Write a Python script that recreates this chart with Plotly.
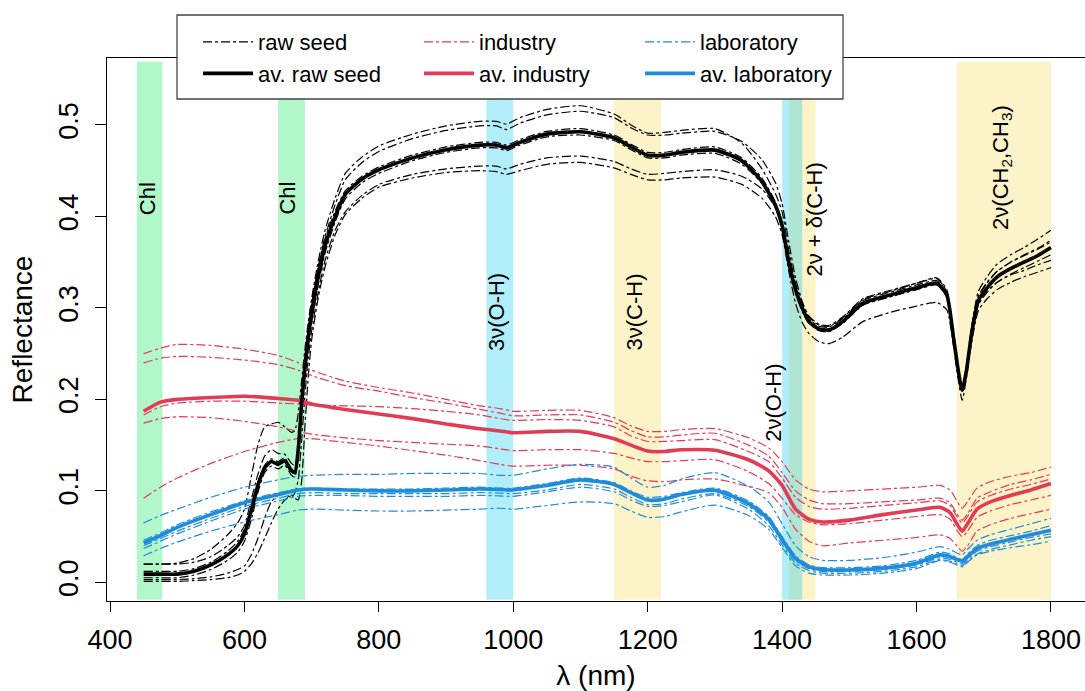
import plotly.graph_objects as go

# ---------------- data ----------------
wl_raw = [450, 475, 500, 525, 550, 575, 590, 600, 610, 620,
          630, 640, 650, 660, 670, 675, 680, 685, 690, 695,
          700, 710, 720, 735, 750, 775, 800, 850, 900, 950,
          975, 990, 1010, 1050, 1100, 1150, 1175, 1200, 1225, 1250,
          1300, 1340, 1370, 1390, 1400, 1410, 1420, 1430, 1440, 1455,
          1470, 1490, 1520, 1560, 1600, 1630, 1645, 1655, 1662, 1668,
          1674, 1682, 1692, 1705, 1720, 1740, 1760, 1780, 1800]

raw_1 = [0.020, 0.020, 0.020, 0.022, 0.028, 0.040, 0.050, 0.062, 0.090, 0.118,
         0.138, 0.145, 0.141, 0.140, 0.130, 0.128, 0.150, 0.200, 0.245, 0.280,
         0.310, 0.352, 0.385, 0.420, 0.447, 0.465, 0.477, 0.490, 0.499, 0.504,
         0.504, 0.501, 0.508, 0.517, 0.521, 0.512, 0.500, 0.491, 0.492, 0.494,
         0.496, 0.480, 0.452, 0.425, 0.405, 0.362, 0.327, 0.305, 0.290, 0.281,
         0.280, 0.289, 0.309, 0.318, 0.327, 0.333, 0.320, 0.272, 0.235, 0.213,
         0.235, 0.280, 0.318, 0.334, 0.348, 0.358, 0.366, 0.375, 0.385]
raw_2 = [0.012, 0.012, 0.012, 0.015, 0.022, 0.034, 0.045, 0.058, 0.083, 0.110,
         0.128, 0.135, 0.132, 0.136, 0.124, 0.122, 0.148, 0.198, 0.240, 0.275,
         0.304, 0.346, 0.378, 0.413, 0.440, 0.459, 0.471, 0.485, 0.494, 0.499,
         0.499, 0.495, 0.502, 0.511, 0.515, 0.508, 0.497, 0.489, 0.489, 0.491,
         0.493, 0.482, 0.462, 0.437, 0.414, 0.372, 0.333, 0.307, 0.291, 0.282,
         0.281, 0.290, 0.310, 0.319, 0.327, 0.332, 0.318, 0.271, 0.234, 0.211,
         0.232, 0.276, 0.313, 0.328, 0.340, 0.350, 0.358, 0.365, 0.374]
raw_3 = [0.020, 0.020, 0.021, 0.026, 0.036, 0.052, 0.065, 0.080, 0.115, 0.150,
         0.170, 0.173, 0.175, 0.170, 0.164, 0.166, 0.185, 0.220, 0.255, 0.285,
         0.308, 0.345, 0.376, 0.406, 0.428, 0.444, 0.454, 0.467, 0.476, 0.481,
         0.481, 0.478, 0.484, 0.493, 0.496, 0.489, 0.479, 0.470, 0.470, 0.473,
         0.476, 0.464, 0.442, 0.416, 0.394, 0.353, 0.321, 0.301, 0.288, 0.280,
         0.279, 0.288, 0.308, 0.317, 0.325, 0.330, 0.317, 0.270, 0.234, 0.212,
         0.233, 0.276, 0.312, 0.327, 0.340, 0.350, 0.357, 0.364, 0.372]
raw_4 = [0.005, 0.005, 0.005, 0.008, 0.014, 0.024, 0.033, 0.045, 0.068, 0.098,
         0.120, 0.127, 0.124, 0.128, 0.117, 0.115, 0.138, 0.185, 0.225, 0.258,
         0.285, 0.326, 0.360, 0.394, 0.419, 0.437, 0.447, 0.461, 0.470, 0.475,
         0.475, 0.472, 0.478, 0.487, 0.489, 0.483, 0.473, 0.464, 0.464, 0.467,
         0.469, 0.457, 0.436, 0.410, 0.388, 0.348, 0.316, 0.296, 0.283, 0.275,
         0.274, 0.283, 0.303, 0.312, 0.320, 0.325, 0.312, 0.266, 0.230, 0.208,
         0.227, 0.268, 0.303, 0.317, 0.328, 0.337, 0.344, 0.351, 0.358]
raw_5 = [0.003, 0.003, 0.003, 0.004, 0.006, 0.010, 0.014, 0.018, 0.030, 0.048,
         0.070, 0.088, 0.095, 0.096, 0.093, 0.098, 0.112, 0.155, 0.205, 0.245,
         0.275, 0.318, 0.352, 0.385, 0.405, 0.423, 0.435, 0.446, 0.452, 0.455,
         0.455, 0.452, 0.457, 0.464, 0.466, 0.460, 0.452, 0.446, 0.447, 0.449,
         0.451, 0.444, 0.430, 0.410, 0.390, 0.352, 0.318, 0.298, 0.284, 0.276,
         0.275, 0.284, 0.303, 0.312, 0.320, 0.326, 0.313, 0.267, 0.231, 0.209,
         0.228, 0.270, 0.305, 0.318, 0.328, 0.336, 0.341, 0.347, 0.352]
raw_6 = [0.001, 0.001, 0.001, 0.002, 0.003, 0.005, 0.008, 0.012, 0.020, 0.032,
         0.048, 0.065, 0.080, 0.090, 0.095, 0.092, 0.090, 0.110, 0.170, 0.225,
         0.265, 0.312, 0.345, 0.380, 0.402, 0.420, 0.432, 0.442, 0.448, 0.450,
         0.449, 0.446, 0.450, 0.457, 0.459, 0.453, 0.446, 0.440, 0.440, 0.442,
         0.443, 0.435, 0.420, 0.400, 0.380, 0.340, 0.305, 0.284, 0.272, 0.263,
         0.261, 0.268, 0.285, 0.295, 0.302, 0.306, 0.298, 0.258, 0.222, 0.199,
         0.222, 0.262, 0.297, 0.310, 0.320, 0.328, 0.334, 0.339, 0.344]
raw_avg = [0.009, 0.009, 0.009, 0.012, 0.019, 0.030, 0.040, 0.053, 0.078, 0.106,
           0.125, 0.132, 0.129, 0.133, 0.122, 0.120, 0.145, 0.195, 0.235, 0.268,
           0.294, 0.335, 0.368, 0.400, 0.424, 0.441, 0.451, 0.464, 0.473, 0.478,
           0.478, 0.475, 0.481, 0.490, 0.4925, 0.486, 0.476, 0.467, 0.467, 0.470,
           0.4725, 0.461, 0.438, 0.412, 0.390, 0.350, 0.320, 0.300, 0.285, 0.277,
           0.276, 0.285, 0.305, 0.314, 0.322, 0.327, 0.314, 0.268, 0.232, 0.210,
           0.230, 0.272, 0.308, 0.322, 0.334, 0.343, 0.350, 0.357, 0.366]

wl_oil = [450, 475, 500, 550, 600, 650, 680, 700, 750, 800,
          850, 900, 950, 980, 1000, 1050, 1100, 1150, 1175, 1200,
          1225, 1250, 1300, 1350, 1380, 1400, 1420, 1440, 1460, 1500,
          1550, 1600, 1635, 1650, 1660, 1668, 1676, 1690, 1710, 1740,
          1770, 1800]

ind_1 = [0.250, 0.256, 0.260, 0.259, 0.255, 0.248, 0.240, 0.232, 0.220, 0.213,
         0.207, 0.200, 0.193, 0.190, 0.187, 0.188, 0.188, 0.180, 0.171, 0.165,
         0.165, 0.167, 0.168, 0.158, 0.147, 0.132, 0.112, 0.102, 0.099, 0.100,
         0.102, 0.104, 0.106, 0.101, 0.089, 0.081, 0.088, 0.103, 0.110, 0.116,
         0.120, 0.126]
ind_2 = [0.240, 0.245, 0.247, 0.246, 0.243, 0.238, 0.232, 0.226, 0.215, 0.209,
         0.202, 0.196, 0.189, 0.185, 0.182, 0.183, 0.183, 0.175, 0.166, 0.159,
         0.159, 0.161, 0.163, 0.150, 0.138, 0.120, 0.100, 0.090, 0.086, 0.086,
         0.088, 0.090, 0.092, 0.087, 0.075, 0.068, 0.075, 0.092, 0.099, 0.107,
         0.112, 0.118]
ind_3 = [0.183, 0.192, 0.196, 0.198, 0.198, 0.196, 0.195, 0.194, 0.193, 0.192,
         0.190, 0.187, 0.183, 0.179, 0.177, 0.178, 0.177, 0.170, 0.160, 0.154,
         0.154, 0.155, 0.156, 0.143, 0.132, 0.114, 0.093, 0.083, 0.080, 0.081,
         0.084, 0.087, 0.089, 0.084, 0.072, 0.065, 0.072, 0.088, 0.095, 0.102,
         0.107, 0.113]
ind_4 = [0.174, 0.179, 0.181, 0.180, 0.176, 0.170, 0.165, 0.162, 0.158, 0.155,
         0.153, 0.151, 0.149, 0.146, 0.144, 0.145, 0.145, 0.141, 0.136, 0.132,
         0.132, 0.133, 0.134, 0.121, 0.108, 0.092, 0.074, 0.066, 0.063, 0.064,
         0.068, 0.072, 0.074, 0.069, 0.057, 0.050, 0.056, 0.071, 0.078, 0.085,
         0.090, 0.095]
ind_5 = [0.092, 0.104, 0.114, 0.130, 0.143, 0.153, 0.157, 0.157, 0.153, 0.149,
         0.144, 0.139, 0.133, 0.129, 0.127, 0.128, 0.128, 0.124, 0.116, 0.111,
         0.110, 0.112, 0.113, 0.105, 0.098, 0.082, 0.058, 0.045, 0.040, 0.043,
         0.046, 0.049, 0.052, 0.048, 0.040, 0.034, 0.040, 0.056, 0.063, 0.070,
         0.075, 0.080]
ind_avg = [0.187, 0.197, 0.200, 0.202, 0.2035, 0.201, 0.199, 0.195, 0.189, 0.184,
           0.179, 0.173, 0.168, 0.1655, 0.1635, 0.165, 0.165, 0.157, 0.150, 0.1435,
           0.143, 0.145, 0.1445, 0.134, 0.122, 0.106, 0.080, 0.069, 0.066, 0.068,
           0.074, 0.079, 0.082, 0.076, 0.064, 0.056, 0.064, 0.080, 0.088, 0.095,
           0.101, 0.108]

lab_1 = [0.065, 0.073, 0.080, 0.093, 0.104, 0.112, 0.116, 0.117, 0.118, 0.118,
         0.119, 0.119, 0.119, 0.117, 0.117, 0.124, 0.129, 0.126, 0.114, 0.104,
         0.106, 0.113, 0.120, 0.105, 0.088, 0.064, 0.040, 0.028, 0.024, 0.024,
         0.027, 0.033, 0.039, 0.036, 0.032, 0.030, 0.036, 0.046, 0.052, 0.058,
         0.064, 0.070]
lab_2 = [0.046, 0.054, 0.063, 0.077, 0.089, 0.098, 0.102, 0.103, 0.102, 0.102,
         0.102, 0.103, 0.104, 0.103, 0.103, 0.108, 0.114, 0.109, 0.100, 0.093,
         0.094, 0.098, 0.103, 0.089, 0.072, 0.050, 0.029, 0.019, 0.016, 0.016,
         0.018, 0.024, 0.033, 0.031, 0.027, 0.025, 0.031, 0.040, 0.046, 0.051,
         0.056, 0.062]
lab_3 = [0.040, 0.048, 0.056, 0.070, 0.083, 0.092, 0.097, 0.098, 0.097, 0.097,
         0.097, 0.097, 0.098, 0.0975, 0.097, 0.101, 0.107, 0.102, 0.093, 0.085,
         0.086, 0.091, 0.097, 0.083, 0.066, 0.044, 0.024, 0.015, 0.012, 0.012,
         0.014, 0.019, 0.027, 0.025, 0.022, 0.020, 0.025, 0.034, 0.039, 0.044,
         0.049, 0.053]
lab_4 = [0.037, 0.045, 0.053, 0.067, 0.080, 0.089, 0.094, 0.095, 0.095, 0.094,
         0.094, 0.094, 0.095, 0.0945, 0.094, 0.099, 0.104, 0.099, 0.090, 0.083,
         0.084, 0.088, 0.0955, 0.080, 0.062, 0.041, 0.021, 0.013, 0.010, 0.010,
         0.012, 0.017, 0.025, 0.023, 0.020, 0.018, 0.023, 0.031, 0.036, 0.041,
         0.046, 0.050]
lab_5 = [0.029, 0.037, 0.044, 0.056, 0.066, 0.074, 0.079, 0.080, 0.079, 0.078,
         0.078, 0.079, 0.080, 0.081, 0.080, 0.084, 0.088, 0.086, 0.078, 0.071,
         0.072, 0.077, 0.0845, 0.073, 0.058, 0.038, 0.018, 0.010, 0.008, 0.008,
         0.010, 0.015, 0.024, 0.022, 0.019, 0.017, 0.022, 0.030, 0.034, 0.038,
         0.041, 0.045]
lab_avg = [0.043, 0.051, 0.060, 0.074, 0.087, 0.096, 0.101, 0.102, 0.101, 0.100,
           0.100, 0.101, 0.102, 0.1015, 0.101, 0.106, 0.112, 0.107, 0.098, 0.090,
           0.091, 0.096, 0.1005, 0.086, 0.069, 0.047, 0.026, 0.017, 0.014, 0.0135,
           0.0155, 0.021, 0.030, 0.028, 0.025, 0.023, 0.028, 0.037, 0.042, 0.047,
           0.052, 0.057]

# absorption bands (nm) and labels
band_lo = [440, 650, 960, 1150, 1410, 1400, 1660]
band_hi = [478, 690, 1000, 1220, 1450, 1430, 1800]
band_kind = ["chl", "chl", "oh", "ch", "ch", "oh", "ch"]
label_text = ["Chl", "Chl", "3ν(O-H)", "3ν(C-H)", "2ν(O-H)", "2ν + δ(C-H)",
              "2ν(CH<sub>2</sub>,CH<sub>3</sub>)"]
label_x = [455, 664, 975, 1181, 1386, 1448, 1727]
label_y = [0.420, 0.420, 0.296, 0.296, 0.196, 0.397, 0.454]

x_ticks = [400, 600, 800, 1000, 1200, 1400, 1600, 1800]
y_ticks = [0.0, 0.1, 0.2, 0.3, 0.4, 0.5]
y_ticktext = ["0.0", "0.1", "0.2", "0.3", "0.4", "0.5"]

# ---------------- styles ----------------
FONT = "Liberation Sans, Arial, sans-serif"
BLACK = "#000000"
RED = "#E23B55"
BLUE = "#1E8CDD"
band_fill = {"chl": "rgba(0,230,80,0.30)",
             "oh": "rgba(0,200,235,0.30)",
             "ch": "rgba(250,220,100,0.35)"}

fig = go.Figure()

groups = [
    ("raw", "raw seed", "av. raw seed", BLACK, wl_raw,
     [raw_1, raw_2, raw_3, raw_4, raw_5, raw_6], raw_avg),
    ("ind", "industry", "av. industry", RED, wl_oil,
     [ind_1, ind_2, ind_3, ind_4, ind_5], ind_avg),
    ("lab", "laboratory", "av. laboratory", BLUE, wl_oil,
     [lab_1, lab_2, lab_3, lab_4, lab_5], lab_avg),
]

# individual spectra (dash-dot)
for key, name, avname, col, wl, curves, avg in groups:
    for i, c in enumerate(curves):
        fig.add_trace(go.Scatter(
            x=wl, y=c, mode="lines", name=name, legendgroup=key,
            showlegend=(i == 0),
            line=dict(color=col, width=1.2, dash="dashdot",
                      shape="spline", smoothing=0.6)))

# averages (thick)
for key, name, avname, col, wl, curves, avg in [groups[1], groups[2], groups[0]]:
    fig.add_trace(go.Scatter(
        x=wl, y=avg, mode="lines", name=avname, legendgroup=key,
        line=dict(color=col, width=3.6, shape="spline", smoothing=0.6)))

# bands: yellow first so cyan overlays it
order = sorted(range(len(band_lo)), key=lambda k: 0 if band_kind[k] == "ch" else 1)
for k in order:
    fig.add_shape(type="rect", xref="x", yref="y",
                  x0=band_lo[k], x1=band_hi[k], y0=-0.019, y1=0.569,
                  fillcolor=band_fill[band_kind[k]], line=dict(width=0),
                  layer="below")

for t, x, y in zip(label_text, label_x, label_y):
    fig.add_annotation(x=x, y=y, xref="x", yref="y", text=t, showarrow=False,
                       textangle=-90, font=dict(size=22, color="black", family=FONT))

# legend box
fig.add_shape(type="rect", xref="paper", yref="paper",
              x0=(177 - 107) / 978, x1=(843 - 107) / 978,
              y0=1 + (58 - 99) / 543, y1=1 + (58 - 15) / 543,
              fillcolor="white", line=dict(color="#444444", width=1.3),
              layer="above")

fig.update_layout(
    width=1085, height=691,
    margin=dict(l=107, r=0, t=58, b=90),
    paper_bgcolor="white", plot_bgcolor="white",
    font=dict(family=FONT, color="black"),
    showlegend=True,
    legend=dict(orientation="h", traceorder="grouped",
                x=(198 - 107) / 978, y=1 + (58 - 21) / 543,
                xanchor="left", yanchor="top",
                bgcolor="rgba(0,0,0,0)", borderwidth=0,
                font=dict(size=22, color="black", family=FONT),
                itemwidth=50, entrywidth=156, entrywidthmode="pixels",
                tracegroupgap=0),
    xaxis=dict(range=[395.5, 1850.7], tickmode="array", tickvals=x_ticks,
               ticks="outside", ticklen=10, tickwidth=1.3, tickcolor="black",
               ticklabelstandoff=4,
               showline=True, linecolor="black", linewidth=1.3, mirror=True,
               showgrid=False, zeroline=False,
               tickfont=dict(size=27, color="black", family=FONT),
               title=dict(text="λ (nm)", font=dict(size=28, family=FONT),
                          standoff=12)),
    yaxis=dict(range=[-0.0204, 0.5732], tickmode="array", tickvals=y_ticks,
               ticktext=y_ticktext, tickangle=-90,
               ticks="outside", ticklen=11, tickwidth=1.3, tickcolor="black",
               ticklabelstandoff=6,
               showline=True, linecolor="black", linewidth=1.3, mirror=False,
               showgrid=False, zeroline=False,
               tickfont=dict(size=27, color="black", family=FONT),
               title=dict(text="Reflectance", font=dict(size=28, family=FONT),
                          standoff=13)),
)

fig.write_html("out.html",
               config={"displayModeBar": False},
               post_script="document.body.style.margin='0px';"
                           "document.body.style.overflow='hidden';")
